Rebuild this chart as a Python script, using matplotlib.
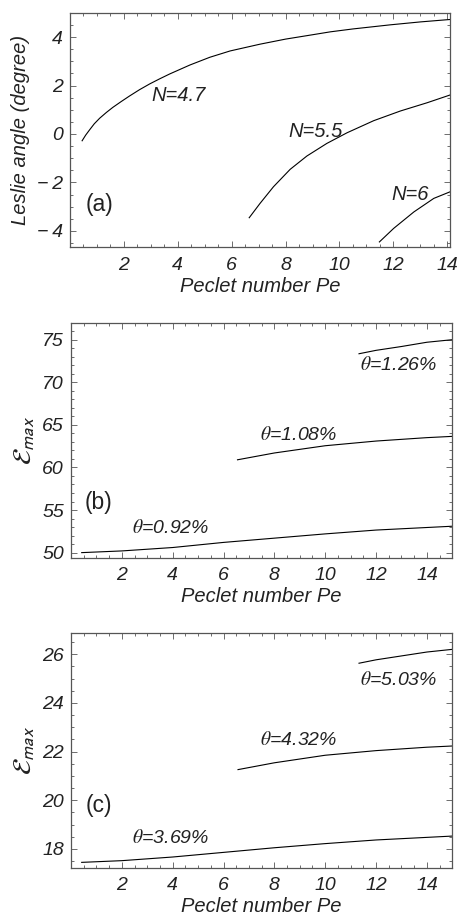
import matplotlib
matplotlib.use("Agg")
import matplotlib.pyplot as plt
from matplotlib.ticker import MultipleLocator, FuncFormatter

plt.rcParams['font.family'] = ['Liberation Sans', 'DejaVu Sans']

# panel (a): Leslie angle vs Peclet number
pe_47 = [0.45, 0.58, 0.72, 0.90, 1.10, 1.35, 1.59, 1.90, 2.21, 2.58, 2.96, 3.33, 3.70, 4.45, 5.19, 5.94, 7.05, 8.0, 9.0, 9.66, 10.5, 11.89, 13.0, 14.1]
ang_47 = [-0.28, -0.05, 0.16, 0.42, 0.65, 0.89, 1.10, 1.34, 1.57, 1.83, 2.07, 2.28, 2.48, 2.85, 3.17, 3.43, 3.71, 3.92, 4.10, 4.22, 4.34, 4.51, 4.63, 4.73]
pe_55 = [6.65, 7.05, 7.55, 8.17, 8.79, 9.53, 10.28, 11.27, 12.26, 13.25, 14.1]
ang_55 = [-3.46, -2.87, -2.18, -1.46, -0.91, -0.39, 0.05, 0.55, 0.95, 1.29, 1.61]
pe_6 = [11.48, 12.01, 12.76, 13.5, 14.1]
ang_6 = [-4.46, -3.90, -3.22, -2.66, -2.39]

# panel (b)
pe_b1 = [0.42, 2, 4, 6, 8, 10, 12, 15]
e_b1 = [50.0, 50.2, 50.6, 51.2, 51.7, 52.2, 52.65, 53.1]
pe_b2 = [6.55, 8, 10, 12, 14, 15]
e_b2 = [60.9, 61.7, 62.55, 63.1, 63.5, 63.65]
pe_b3 = [11.33, 12, 13, 14, 15]
e_b3 = [73.35, 73.75, 74.2, 74.7, 75.0]

# panel (c)
pe_c1 = [0.42, 2, 4, 6, 8, 10, 12, 15]
e_c1 = [17.45, 17.52, 17.67, 17.86, 18.05, 18.22, 18.37, 18.53]
pe_c2 = [6.57, 8, 10, 12, 14, 15]
e_c2 = [21.26, 21.54, 21.85, 22.04, 22.18, 22.23]
pe_c3 = [11.33, 12, 13, 14, 15]
e_c3 = [25.63, 25.77, 25.93, 26.09, 26.2]

txt = '#222222'
frame = '#555555'


def fmt(v, pos):
    s = '%g' % v
    if v < 0:
        s = '\u2212\u2009' + s[1:]
    return s


def style(ax, ymaj, ymin):
    ax.xaxis.set_major_locator(MultipleLocator(2))
    ax.xaxis.set_minor_locator(MultipleLocator(0.5))
    ax.yaxis.set_major_locator(MultipleLocator(ymaj))
    ax.yaxis.set_minor_locator(MultipleLocator(ymin))
    ax.xaxis.set_major_formatter(FuncFormatter(lambda v, p: '' if v == 0 else fmt(v, p)))
    ax.yaxis.set_major_formatter(FuncFormatter(fmt))
    ax.tick_params(which='both', direction='in', top=True, right=True,
                   color=frame, width=0.6, labelcolor=txt, labelsize=14)
    ax.tick_params(which='major', length=4)
    ax.tick_params(which='minor', length=2)
    ax.tick_params(axis='x', pad=7)
    ax.tick_params(axis='y', pad=5)
    for lab in ax.get_xticklabels() + ax.get_yticklabels():
        lab.set_style('italic')
    for sp in ax.spines.values():
        sp.set_color(frame)
        sp.set_linewidth(0.9)
    ax.set_xlabel('Peclet number Pe', fontsize=14.5, style='italic', color=txt, labelpad=2)


fig = plt.figure(figsize=(4.62, 9.19), dpi=100)

ax1 = fig.add_axes([0.1515, 0.7312, 0.8225, 0.2547])
ax1.plot(pe_47, ang_47, color='black', lw=0.8)
ax1.plot(pe_55, ang_55, color='black', lw=0.8)
ax1.plot(pe_6, ang_6, color='black', lw=0.8)
ax1.set_xlim(0, 14.1)
ax1.set_ylim(-4.67, 5.0)
style(ax1, 2, 0.5)
ax1.set_ylabel('Leslie angle (degree)', fontsize=14.5, style='italic', color=txt, labelpad=5)
for s, x, y in [('N=4.7', 4.01, 1.61), ('N=5.5', 9.1, 0.1), ('N=6', 12.63, -2.52)]:
    ax1.text(x, y, s, fontsize=14.5, style='italic', color=txt, ha='center', va='center')
ax1.text(1.1, -2.9, '(a)', fontsize=16.5, color=txt, ha='center', va='center')

ax2 = fig.add_axes([0.1537, 0.3931, 0.8253, 0.2558])
ax2.plot(pe_b1, e_b1, color='black', lw=0.8)
ax2.plot(pe_b2, e_b2, color='black', lw=0.8)
ax2.plot(pe_b3, e_b3, color='black', lw=0.8)
ax2.set_xlim(0, 15)
ax2.set_ylim(49.4, 77)
style(ax2, 5, 1)
ax2.set_ylabel(r'$\mathcal{E}_{max}$', fontsize=19, color=txt, labelpad=4, math_fontfamily='stixsans')
for s, x, y in [(r'$\theta$=0.92%', 3.93, 52.9), (r'$\theta$=1.08%', 8.94, 63.77), (r'$\theta$=1.26%', 12.9, 71.98)]:
    ax2.text(x, y, s, fontsize=14, style='italic', color=txt, ha='center', va='center', math_fontfamily='stix')
ax2.text(1.08, 55.94, '(b)', fontsize=16.5, color=txt, ha='center', va='center')

ax3 = fig.add_axes([0.1537, 0.0558, 0.8253, 0.2551])
ax3.plot(pe_c1, e_c1, color='black', lw=0.8)
ax3.plot(pe_c2, e_c2, color='black', lw=0.8)
ax3.plot(pe_c3, e_c3, color='black', lw=0.8)
ax3.set_xlim(0, 15)
ax3.set_ylim(17.23, 26.86)
style(ax3, 2, 0.5)
ax3.set_ylabel(r'$\mathcal{E}_{max}$', fontsize=19, color=txt, labelpad=4, math_fontfamily='stixsans')
for s, x, y in [(r'$\theta$=3.69%', 3.93, 18.46), (r'$\theta$=4.32%', 8.94, 22.48), (r'$\theta$=5.03%', 12.9, 24.94)]:
    ax3.text(x, y, s, fontsize=14, style='italic', color=txt, ha='center', va='center', math_fontfamily='stix')
ax3.text(1.08, 19.78, '(c)', fontsize=16.5, color=txt, ha='center', va='center')

fig.savefig('out.png', dpi=100)
